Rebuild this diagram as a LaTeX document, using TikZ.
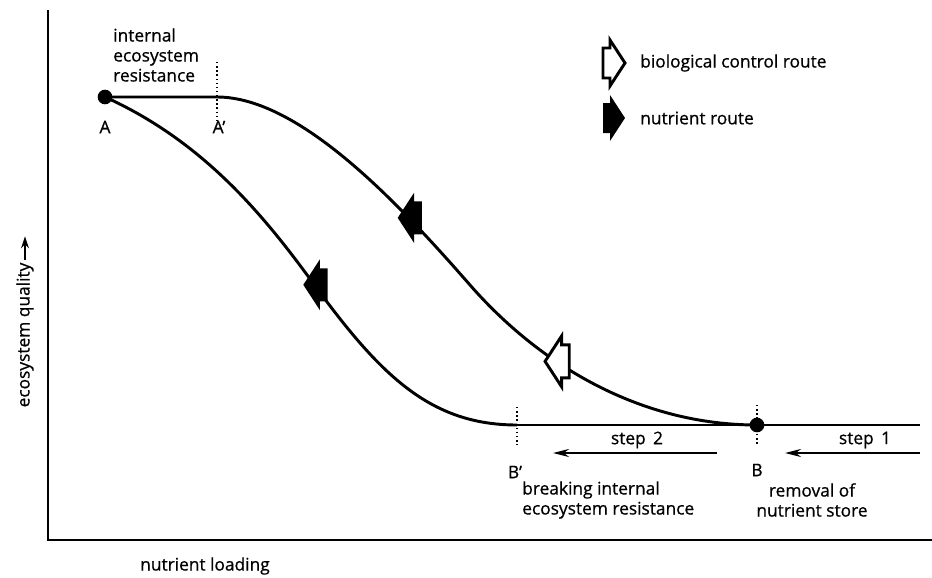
\documentclass[tikz,border=0pt]{standalone}
\usepackage{fontspec}
\setmainfont{Open Sans}[UprightFeatures={FakeBold=0.7}]
\usetikzlibrary{arrows.meta, decorations.markings}

\tikzset{
  curve/.style={line width=2.2pt},
  axis/.style={line width=1.5pt},
  tick/.style={dotted, line width=1.1pt},
  steparrow/.style={line width=1.5pt, -{Stealth[length=12pt,width=6pt]}},
  dot/.style={circle, fill=black, inner sep=0pt, minimum size=11pt},
  lbl/.style={font=\fontsize{13}{15}\selectfont, inner sep=0pt},
  fullhead/.pic={\fill (-12,-15) -- (-5,-15) -- (-5,-23) -- (10,0) -- (-5,23) -- (-5,15) -- (-12,15) -- cycle;},
  openhead/.pic={\draw[line width=2.2pt, fill=white] (-12,-15) -- (-5,-15) -- (-5,-23) -- (10,0) -- (-5,23) -- (-5,15) -- (-12,15) -- cycle;},
}

\begin{document}
\begin{tikzpicture}[x=0.75pt, y=-0.75pt]
\useasboundingbox (0,0) rectangle (932,578);

%axes
\coordinate (top) at (48,10);
\coordinate (origin) at (48,540);
\coordinate (right) at (932,540);
\draw[axis] (top) -- (origin) -- (right);

\node[lbl, rotate=90] (ylab) at (25,335) {ecosystem quality};
\draw[line width=1.2pt, -{Stealth[length=9pt,width=6pt]}] (ylab.east) ++(0,-2) -- ++(0,-24);
\node[lbl] (xlab) at (205,566) {nutrient loading};

%points
\node[dot] (A) at (105,97) {};
\node[dot] (B) at (757,425) {};
\coordinate (Ap) at (217,97);
\coordinate (Bp) at (517,425);
\coordinate (mid) at (470,285);
\coordinate (low) at (313,283);
\coordinate (end) at (920,425);

%curves
\draw[curve, postaction={decorate, decoration={markings,
    mark=at position 0.45 with {\pic[xscale=-1, scale=1.1]{fullhead};},
    mark=at position 0.72 with {\pic[xscale=-1, scale=1.1]{openhead};}}}]
  (A.center) -- (Ap) .. controls (300,97) and (400,205) .. (mid)
  .. controls (540,365) and (640,425) .. (B.center);
\draw[curve, postaction={decorate, decoration={markings,
    mark=at position 0.525 with {\pic[xscale=-1, scale=1.1]{fullhead};}}}]
  (A.center) .. controls (200,140) and (260,210) .. (low)
  .. controls (380,375) and (430,425) .. (Bp);
\draw[curve] (Bp) -- (B.center) -- (end);

%ticks
\draw[tick] (Ap) ++(0,-35) -- ++(0,61);
\draw[tick] (B) ++(0,-20) -- ++(0,40);
\draw[tick] (Bp) ++(0,-18) -- ++(0,38);

%steps
\coordinate (s1a) at (920,453);
\coordinate (s1b) at (785,453);
\coordinate (s2a) at (717,453);
\coordinate (s2b) at (553,453);
\draw[steparrow] (s1a) -- (s1b);
\draw[steparrow] (s2a) -- (s2b);
\node[lbl] (step1) at (865,440) {step\, 1};
\node[lbl] (step2) at (637,440) {step\, 2};

%labels
\node[lbl] (Alab) at (105,127) {A};
\node[lbl] (Aplab) at (219,127) {A’};
\node[lbl] (Blab) at (757,470) {B};
\node[lbl] (Bplab) at (515,472) {B’};
\node[lbl, anchor=west, align=left] (resist) at (113,55) {internal\\ecosystem\\resistance};
\node[lbl, anchor=west, align=left] (breaking) at (522,500) {breaking internal\\ecosystem resistance};
\node[lbl, align=center] (removal) at (812,500) {removal of\\nutrient store};

%legend
\pic at (615,63) {openhead};
\node[lbl, anchor=west] (biolab) at (640,63) {biological control route};
\pic at (615,118) {fullhead};
\node[lbl, anchor=west] (nutlab) at (640,118) {nutrient route};

\end{tikzpicture}
\end{document}
